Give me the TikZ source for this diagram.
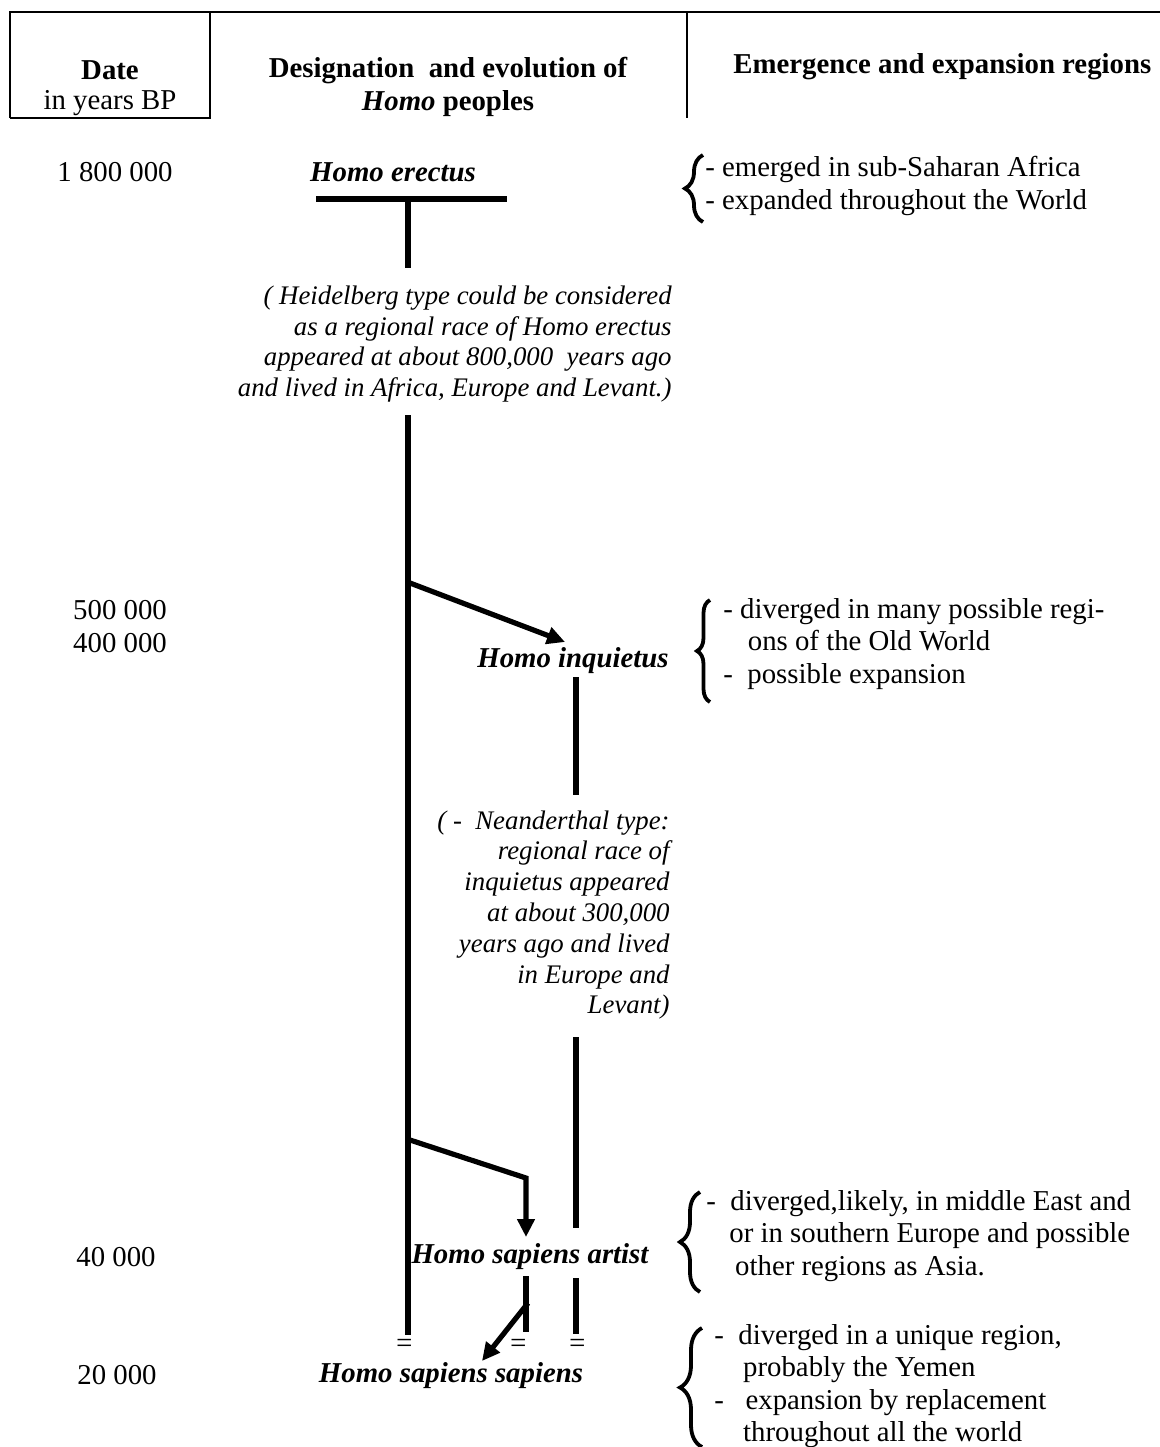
\documentclass[tikz,border=0pt]{standalone}
\usepackage{fontspec}
\setmainfont{Liberation Serif}
\usetikzlibrary{arrows.meta,decorations.pathreplacing}

\newcommand{\bodysize}{\fontsize{14.4}{16.3}\selectfont}
\newcommand{\notesize}{\fontsize{13.4}{15.4}\selectfont}

\begin{document}
\begin{tikzpicture}[x=0.5pt, y=-0.5pt, >={Triangle[length=9pt,width=8.5pt]},
	every node/.style={inner sep=0pt, font=\bodysize},
	rule/.style={line width=1pt},
	branch/.style={line width=2.6pt},
	people/.style={font=\bodysize\bfseries\itshape},
	note/.style={font=\notesize\itshape, align=right, anchor=east},
	region/.style={align=left, anchor=west},
	curly/.style={line width=1.9pt, decorate, decoration={brace, amplitude=#1}}]
	\useasboundingbox (0,0) rectangle (1160,1447);
	% header of the table
	\draw[rule] (10,118) -- (10,12) -- (1160,12);
	\draw[rule] (210,12) -- (210,118) -- (10,118);
	\draw[rule] (687,12) -- (687,118);
	\node[font=\bodysize\bfseries] (date) at (110,70) {Date};
	\node (bp) at (110,103) {in years BP};
	\node[font=\bodysize\bfseries, align=center] (desig) at (448,87) {Designation\ \ and evolution of\\\textit{Homo} peoples};
	\node[font=\bodysize\bfseries, anchor=west] (emerg) at (733,67) {Emergence and expansion regions};
	% dates
	\node (d1) at (115,172) {1 800 000};
	\node (d2) at (120,610) {500 000};
	\node (d3) at (120,643) {400 000};
	\node (d4) at (116,1257) {40 000};
	\node (d5) at (117,1375) {20 000};
	% peoples
	\node[people] (erectus) at (393,172) {Homo erectus};
	\node[people] (inquietus) at (573,661) {Homo inquietus};
	\node[people] (artist) at (530,1257) {Homo sapiens artist};
	\node[people] (sapiens) at (451,1376) {Homo sapiens sapiens};
	\node[note] (heidel) at (672,344) {( Heidelberg type could be considered\\as a regional race of Homo erectus\\appeared at about 800,000\ \ years ago\\and lived in Africa, Europe and Levant.)};
	\node[note] (neand) at (670,915) {(\ -\ \ Neanderthal type:\\regional race of\\inquietus appeared\\at about 300,000\\years ago and lived\\in Europe and\\Levant)};
	\foreach \x/\n in {404/eqa, 518/eqb, 577/eqc}
	\node[font=\bodysize\itshape] (\n) at (\x,1346) {=};
	% tree
	\coordinate (barL) at (316,199);
	\coordinate (barR) at (507,199);
	\coordinate (stem) at (408,199);
	\coordinate (stemEnd) at (408,268);
	\coordinate (trunkTop) at (408,415);
	\coordinate (trunkEnd) at (408,1335);
	\coordinate (fork1) at (410,583);
	\coordinate (tip1) at (565,642);
	\coordinate (fork2) at (410,1140);
	\coordinate (bend2) at (526,1178);
	\coordinate (tip2) at (526,1237);
	\coordinate (fork3) at (528,1303);
	\coordinate (tip3) at (482,1361);
	\draw[branch] (barL) -- (barR);
	\draw[branch] (stem) -- (stemEnd);
	\draw[branch] (trunkTop) -- (trunkEnd);
	\draw[branch,->] (fork1) -- (tip1);
	\draw[branch] (576,677) -- (576,795);
	\draw[branch] (576,1037) -- (576,1228);
	\draw[branch] (576,1278) -- (576,1334);
	\draw[branch,->] (fork2) -- (bend2) -- (tip2);
	\draw[branch] (526,1276) -- (526,1332);
	\draw[branch,->] (fork3) -- (tip3);
	% regions
	\draw[curly=9pt] (703,222) -- (703,155);
	\node[region] (reg1) at (705,186) {- emerged in sub-Saharan Africa\\- expanded throughout the World};
	\draw[curly=6.5pt] (710,702) -- (710,600);
	\node[region] (reg2) at (723,644) {- diverged in many possible regi-\\\hspace*{0.85em}ons of the Old World\\-\ \ possible expansion};
	\draw[curly=10pt] (700,1292) -- (700,1192);
	\node[region] (reg3) at (706,1236) {-\ \ diverged,likely, in middle East and\\\hspace*{0.8em}or in southern Europe and possible\\\hspace*{1em}other regions as Asia.};
	\draw[curly=11pt] (702,1447) -- (702,1328);
	\node[region] (reg4) at (714,1386) {-\ \ diverged in a unique region,\\\hspace*{1em}probably the Yemen\\-\ \ \ expansion by replacement\\\hspace*{1em}throughout all the world};
\end{tikzpicture}
\end{document}
